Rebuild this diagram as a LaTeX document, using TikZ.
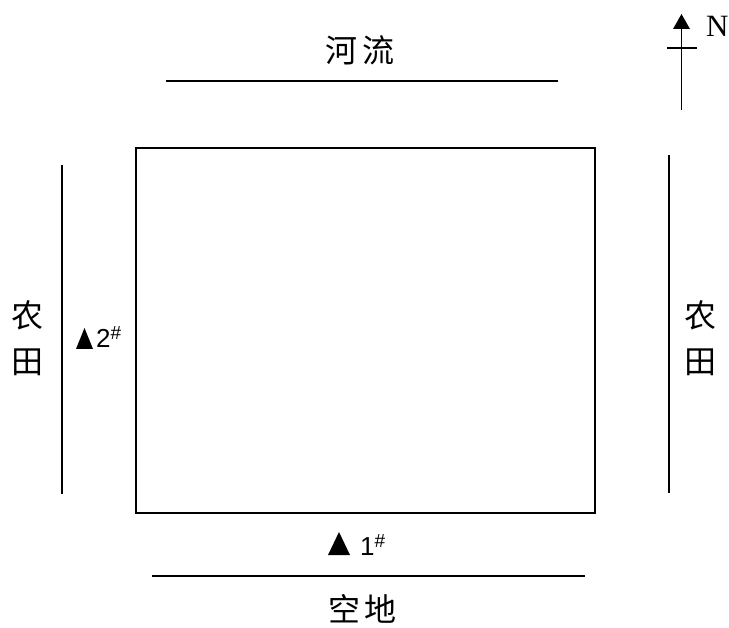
\documentclass[tikz,border=0pt]{standalone}
\usepackage{fontspec}
\setmainfont{Liberation Serif}
\newfontfamily\cjk{Noto Sans CJK SC}
\newfontfamily\arialf{Liberation Sans}
\begin{document}
\begin{tikzpicture}[x=1pt,y=-1pt,
  ln/.style={line width=1.6pt,black},
  cjklabel/.style={font=\cjk\fontsize{32}{32}\selectfont,inner sep=0pt,anchor=center},
  numlabel/.style={font=\arialf\fontsize{26}{26}\selectfont,inner sep=0pt,anchor=base west},
  marker/.style={fill=black,draw=none}]
\useasboundingbox (0,0) rectangle (729,628);
% main rectangle
\draw[ln] (136,148) rectangle (595,513);
% river line
\coordinate (r1) at (166,81); \coordinate (r2) at (558,81);
\draw[ln] (r1) -- (r2);
\node[cjklabel] (river) at (360,50) {河\hspace{5pt}流};
% left field line
\coordinate (l1) at (62,165); \coordinate (l2) at (62,494);
\draw[ln] (l1) -- (l2);
\node[cjklabel] (lnong) at (28,315) {农};
\node[cjklabel] (ltian) at (28,362) {田};
% right field line
\coordinate (rr1) at (669,155); \coordinate (rr2) at (669,493);
\draw[ln] (rr1) -- (rr2);
\node[cjklabel] (rnong) at (700,315) {农};
\node[cjklabel] (rtian) at (700,362) {田};
% bottom line
\coordinate (b1) at (152,576); \coordinate (b2) at (585,576);
\draw[ln] (b1) -- (b2);
\node[cjklabel] (empty) at (362,609) {空\hspace{4pt}地};
% monitoring point 2#
\fill[marker] (76,349) -- (93,349) -- (84.5,328) -- cycle;
\node[numlabel] (p2) at (96,348) {2\raisebox{8pt}{\fontsize{19}{19}\selectfont\#}};
% monitoring point 1#
\fill[marker] (328,555) -- (350,555) -- (339,532) -- cycle;
\node[numlabel] (p1) at (360,555) {1\raisebox{8pt}{\fontsize{19}{19}\selectfont\#}};
% north arrow
\coordinate (n1) at (681.5,110); \coordinate (n2) at (681.5,22);
\draw[line width=1.6pt] (n1) -- (n2);
\fill[marker] (673,29) -- (690,29) -- (681.5,14) -- cycle;
\coordinate (c1) at (667,48); \coordinate (c2) at (697,48);
\draw[line width=1.4pt] (c1) -- (c2);
\node[font=\fontsize{31}{31}\selectfont,inner sep=0pt,anchor=base west] (north) at (706,37) {N};
\end{tikzpicture}
\end{document}
